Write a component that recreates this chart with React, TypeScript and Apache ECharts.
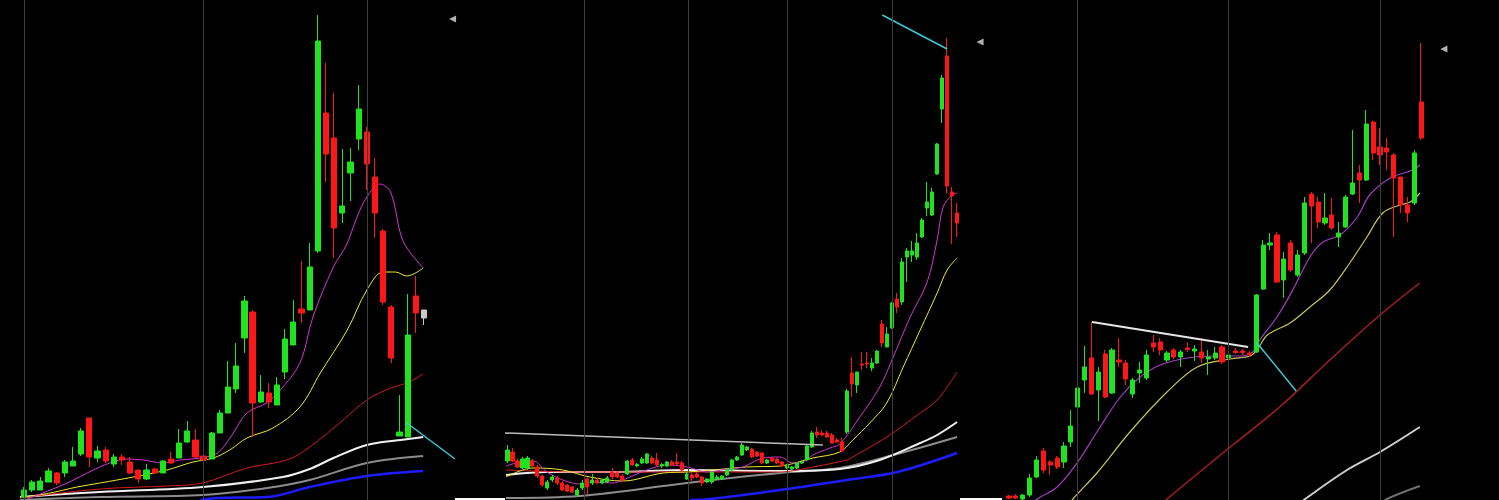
import React, { useEffect, useRef } from "react";
import * as echarts from "echarts";

type C = [number, number, number, number]; // open, close, low, high
type P = [number, number]; // slot index, value

const UP = "#1fe31f";
const DOWN = "#ff1616";
const GRAY_CANDLE = "#c8c8c8";

// ---------------- Panel 1 ----------------
const p1Candles: C[] = [
  [3, 10, 2, 13], [10, 18, 8, 20], [10, 19, 10, 23], [18, 29, 18, 32], [27, 17, 15, 28],
  [27, 38, 23, 40], [34, 39, 34, 53], [46, 69, 44, 72], [82, 43, 33, 82], [42, 49, 38, 54],
  [50, 39, 37, 53], [36, 43, 33, 46], [43, 40, 35, 46], [38, 27, 26, 43], [30, 21, 17, 30],
  [21, 30, 20, 36], [31, 27, 26, 32], [27, 39, 27, 40], [41, 37, 36, 48], [42, 57, 42, 71],
  [58, 69, 57, 79], [60, 43, 42, 71], [44, 40, 38, 51], [41, 67, 41, 68], [67, 87, 67, 90],
  [87, 113, 87, 139], [111, 134, 107, 157], [162, 199, 147, 204], [188, 97, 63, 190], [98, 108, 97, 125],
  [107, 98, 92, 117], [95, 115, 95, 123], [128, 161, 121, 171], [155, 178, 155, 200], [191, 187, 177, 239],
  [190, 233, 190, 257], [249, 459, 247, 485], [387, 346, 318, 437], [362, 272, 242, 407], [287, 294, 277, 351],
  [327, 338, 299, 352], [361, 391, 350, 415], [368, 336, 310, 373], [323, 287, 262, 342], [269, 198, 195, 271],
  [193, 142, 137, 195], [64, 68, 64, 105], [63, 165, 63, 206], [204, 187, 167, 224], [182, 190, 175, 190],
];
const p1GrayIndex = 49;
const p1Magenta: P[] = [[0.4, 1], [2.3, 7], [5.3, 17], [8.5, 30], [10.5, 37], [12.6, 41], [14.6, 40], [17, 37], [19.1, 40], [21.6, 42], [23.7, 47], [25.4, 64], [27.3, 87], [29.7, 97], [31.4, 110], [33.8, 137], [35.4, 183], [37.9, 233], [39.5, 255], [40.8, 283], [42, 303], [43.6, 316], [44.9, 308], [46.1, 267], [46.9, 252], [48.9, 232]];
const p1Yellow: P[] = [[-0.1, 3], [3.2, 7], [6.5, 13], [9.3, 17], [13.4, 23], [17.5, 30], [20.7, 38], [23.2, 42], [25.2, 50], [27.3, 62], [30.5, 72], [33.8, 93], [36.3, 127], [39.6, 170], [42, 210], [44, 228], [45.5, 228], [46.9, 224], [48.9, 232]];
const p1DarkRed: P[] = [[-0.5, 2], [9.3, 11], [17.5, 14], [21.9, 17], [27.3, 32], [32.2, 40], [35, 53], [39.1, 80], [42, 100], [44.9, 112], [46.9, 117], [48.9, 126]];
const p1White: P[] = [[-0.5, 3], [9.3, 8], [21.9, 13], [31.7, 23], [35, 31], [37.9, 42], [42, 55], [46.1, 60], [48.9, 63]];
const p1Gray: P[] = [[-0.5, 0], [9.3, 3], [21.9, 5], [29.8, 12], [35, 20], [42, 37], [48.9, 44]];
const p1Blue: P[] = [[21.6, 0], [23.7, 2], [29.8, 3], [35, 13], [42, 24], [48.9, 29]];
const p1Cyan: P[] = [[46.9, 77], [52.8, 41]];
const p1GridLines = [0, 22, 42];
const p1Marker: P = [52.5, 481];

// ---------------- Panel 2 ----------------
const p2Candles: C[] = [
  [39, 50, 37, 55], [48, 39, 38, 52], [39, 33, 32, 41], [32, 41, 31, 43], [32, 42, 30, 44],
  [39, 34, 33, 41], [33, 24, 22, 35], [24, 15, 13, 25], [12, 18, 10, 20], [20, 23, 18, 25],
  [22, 17, 15, 24], [17, 10, 9, 19], [15, 9, 8, 16], [13, 8, 7, 14], [5, 10, 3, 12],
  [12, 17, 10, 20], [21, 13, 5, 23], [17, 20, 15, 26], [20, 17, 16, 22], [17, 20, 16, 21],
  [18, 22, 17, 24], [28, 23, 21, 32], [27, 23, 22, 29], [24, 20, 18, 26], [26, 39, 25, 40],
  [40, 35, 34, 42], [34, 35.5, 33, 37], [37, 41, 36, 43], [37, 46, 36, 47], [42, 37, 36, 44],
  [40, 35, 34, 47], [34, 35.5, 32, 37], [34, 38, 33, 39], [38, 35, 34, 40], [38, 36, 34, 47],
  [37, 30, 29, 39], [21, 26, 20, 28], [25, 22, 19, 27], [26, 23, 22, 28], [23, 17, 14, 24],
  [18, 21, 17, 22], [18, 28, 16, 29], [21, 23, 20, 25], [21, 24, 20, 25], [25, 30, 24, 32],
  [30, 40, 29, 41], [40, 43, 39, 44], [45, 55, 44, 57], [50, 53, 49, 54], [51, 43, 42, 52],
  [48, 44, 43, 49], [47, 37, 36, 48], [37, 40, 36, 41], [42, 39, 38, 43], [41, 37, 36, 42],
  [38, 34, 33, 39], [32, 35, 31, 36], [31, 33, 30, 34], [32, 37, 31, 38], [37, 38, 36, 40],
  [40, 54, 39, 55], [53, 67, 52, 69], [68, 65, 62, 73], [67, 65, 64, 70], [67, 63, 62, 69],
  [65, 57, 56, 67], [60, 58, 57, 62], [58, 49, 48, 62], [68, 109, 66, 111], [127, 116, 103, 143],
  [115, 128, 107, 128], [136, 135, 130, 148], [137, 136, 132, 148], [132, 137, 129, 142], [137, 149, 136, 150],
  [176, 157, 153, 180], [153, 166, 153, 173], [172, 197, 171, 198], [201, 193, 187, 207], [198, 238, 195, 242],
  [243, 249, 218, 252], [245, 249, 238, 259], [243, 257, 240, 267], [263, 280, 262, 282], [292, 298, 284, 318],
  [285, 308, 284, 312], [326, 356, 325, 357], [391, 422, 377, 425], [444, 314, 307, 462], [308, 304, 256, 313],
  [287, 277, 263, 297],
];
const p2Magenta: P[] = [[-0.3, 34], [2.5, 38], [5.1, 39], [7.9, 28], [11.1, 20], [14.5, 16], [17.1, 18], [21.1, 17], [23.1, 20], [27.9, 30], [32, 35], [36, 33], [40, 28], [44, 31], [47.2, 33], [51.2, 42], [54.6, 43], [57.2, 37], [59.2, 38], [61.2, 45], [64.6, 52], [66.6, 56], [70.6, 83], [74.6, 113], [77.3, 143], [80.7, 183], [84.1, 218], [86.1, 260], [87.3, 293], [89.1, 305], [90.1, 307]];
const p2Yellow: P[] = [[-0.3, 23], [5.1, 32], [11.1, 30], [16.5, 23], [23.1, 19], [31.2, 27], [36, 28], [41.2, 30], [47.9, 33], [54.6, 34], [61.2, 42], [66.6, 48], [69.2, 60], [72.6, 77], [76, 97], [79.3, 133], [82.7, 170], [86.1, 207], [88.1, 230], [90.1, 242]];
const p2DarkRed: P[] = [[-0.3, 30], [14.5, 28], [36, 28], [54.6, 28], [61.2, 33], [68, 40], [69.2, 43], [76, 63], [82.7, 87], [86.1, 100], [90.1, 128]];
const p2White: P[] = [[-0.3, 25], [7.9, 28], [21.1, 28], [36, 30], [54.6, 29], [66.6, 31], [74.6, 40], [82.7, 57], [86.1, 65], [90.1, 78]];
const p2Gray: P[] = [[-0.3, 2], [14.5, 4], [36, 17], [54.6, 27], [66.6, 32], [78.1, 46], [90.1, 63]];
const p2Blue: P[] = [[36.6, 0], [40.6, 1], [54.6, 10], [68, 20], [78.1, 28], [90.1, 47]];
const p2TrendWhite: P[] = [[-0.5, 67], [63.2, 55]];
const p2Cyan: P[] = [[75.1, 485], [88.1, 451]];
const p2GridLines = [15.3, 36.2, 56, 77.2];
const p2Marker: P = [94.7, 458];

// ---------------- Panel 3 ----------------
const p3Candles: C[] = [
  [4, 2, 1, 5], [4, 2, 1, 6], [1, 5, 0, 6], [5, 22, 3, 26], [23, 40, 22, 44],
  [49, 30, 27, 52], [38, 35, 25, 40], [42, 33, 31, 44], [38, 54, 32, 58], [58, 74, 53, 90],
  [93, 112, 88, 128], [120, 133, 107, 154], [142, 106, 105, 178], [110, 128, 79, 133], [146, 103, 102, 150],
  [107, 150, 106, 152], [140, 138, 133, 162], [137, 121, 115, 140], [106, 120, 102, 122], [127, 130, 117, 138],
  [122, 145, 120, 150], [157, 153, 148, 165], [158, 150, 145, 162], [140, 147, 138, 149], [150, 143, 141, 152],
  [143, 148, 133, 150], [152, 150.5, 148, 158], [149, 151, 139, 155], [148, 142, 137, 162], [141, 143, 125, 150],
  [142, 147, 140, 153], [153, 138, 136, 155], [142, 145, 137, 147], [149, 147.5, 146, 152], [149, 147.5, 145, 151],
  [147, 145.5, 143, 149], [148, 205, 147, 206], [211, 255, 210, 260], [255, 257, 250, 267], [265, 218, 217, 268],
  [220, 241, 202, 248], [257, 230, 228, 260], [225, 245, 223, 250], [247, 297, 245, 303], [306, 294, 257, 308],
  [298, 278, 272, 303], [277, 282, 275, 307], [285, 272, 270, 302], [263, 267, 253, 278], [273, 303, 272, 305],
  [306, 317, 305, 370], [327, 320, 297, 335], [320, 376, 319, 390], [378, 347, 340, 379], [353, 345, 335, 372],
  [352, 348, 330, 362], [345, 322, 263, 347], [323, 295, 287, 323], [295, 287, 278, 303], [297, 347, 295, 350],
  [398, 362, 360, 457],
];
const p3Magenta: P[] = [[3.1, -5], [4.1, 1], [7, 13], [9.9, 37], [12.8, 68], [16.2, 103], [19.1, 123], [22, 135], [25.9, 142], [29.7, 144], [33.6, 144], [35.5, 148], [36.5, 160], [39, 183], [41.3, 210], [43.8, 243], [45.7, 258], [48.2, 265], [50.7, 283], [52.5, 305], [55.5, 322], [58.8, 330], [59.8, 335]];
const p3Yellow: P[] = [[9, -3], [9.3, 1], [12.8, 27], [17.6, 68], [23, 108], [27.4, 133], [32.2, 141], [35.1, 144], [36.1, 150], [37.6, 165], [40.9, 177], [43.8, 193], [46.7, 210], [49.6, 237], [52.1, 263], [54.4, 287], [56.9, 295], [58.4, 298], [59.8, 307]];
const p3DarkRed: P[] = [[22.5, -3], [23, 1], [32.2, 53], [39.4, 93], [46.7, 140], [54, 185], [59.8, 217]];
const p3White: P[] = [[42.5, -3], [43.1, 1], [49.2, 30], [54, 48], [59.8, 73]];
const p3Gray: P[] = [[54.5, -3], [55, 1], [59.8, 14]];
const p3TrendWhite: P[] = [[12.1, 178], [34.8, 153]];
const p3Cyan: P[] = [[36.1, 157], [41.8, 109]];
const p3GridLines = [9.9, 31.9, 54];
const p3Marker: P = [63.3, 451];

interface LineDef { data: P[]; color: string; width: number; smooth?: boolean }
interface PanelDef {
  x0: number; step: number; slots: number; barWidth: string;
  candles: C[]; grayIndex?: number;
  mas: LineDef[]; trends: LineDef[]; gridLines: number[]; marker: P;
}

const panels: PanelDef[] = [
  {
    x0: 24, step: 8.163, slots: 55, barWidth: "70%", candles: p1Candles, grayIndex: p1GrayIndex,
    mas: [
      { data: p1Blue, color: "#1c1cff", width: 2.5 },
      { data: p1Gray, color: "#8c8c8c", width: 2 },
      { data: p1White, color: "#f0f0f0", width: 2 },
      { data: p1DarkRed, color: "#d01c1c", width: 1 },
      { data: p1Yellow, color: "#f0e830", width: 1 },
      { data: p1Magenta, color: "#d533d5", width: 1 },
    ],
    trends: [{ data: p1Cyan, color: "#3ec8d6", width: 1.5 }],
    gridLines: p1GridLines, marker: p1Marker,
  },
  {
    x0: 507.5, step: 4.99, slots: 97, barWidth: "72%", candles: p2Candles,
    mas: [
      { data: p2Blue, color: "#1c1cff", width: 2.5 },
      { data: p2Gray, color: "#8c8c8c", width: 2 },
      { data: p2White, color: "#f0f0f0", width: 2 },
      { data: p2DarkRed, color: "#d01c1c", width: 1 },
      { data: p2Yellow, color: "#f0e830", width: 1 },
      { data: p2Magenta, color: "#cf35cf", width: 1 },
    ],
    trends: [
      { data: p2TrendWhite, color: "#bdbdbd", width: 1.5 },
      { data: p2Cyan, color: "#3ec8d6", width: 1.5 },
    ],
    gridLines: p2GridLines, marker: p2Marker,
  },
  {
    x0: 1009, step: 6.87, slots: 66, barWidth: "68%", candles: p3Candles,
    mas: [
      { data: p3Gray, color: "#6e6e6e", width: 2 },
      { data: p3White, color: "#cfcfcf", width: 2 },
      { data: p3DarkRed, color: "#a81d1d", width: 1.5 },
      { data: p3Yellow, color: "#c9c45c", width: 1.2 },
      { data: p3Magenta, color: "#a43cc4", width: 1.2 },
    ],
    trends: [
      { data: p3TrendWhite, color: "#e6e6e6", width: 2 },
      { data: p3Cyan, color: "#3ec8d6", width: 1.5 },
    ],
    gridLines: p3GridLines, marker: p3Marker,
  },
];

function buildOption(): echarts.EChartsCoreOption {
  const grid: any[] = [];
  const xAxis: any[] = [];
  const yAxis: any[] = [];
  const series: any[] = [];

  panels.forEach((p, k) => {
    grid.push({ left: p.x0 - p.step / 2, top: 0, width: p.step * p.slots, height: 500 });
    xAxis.push({
      type: "category", gridIndex: k, show: false, boundaryGap: true,
      data: Array.from({ length: p.slots }, (_, i) => String(i)),
    });
    xAxis.push({ type: "value", gridIndex: k, show: false, min: -0.5, max: p.slots - 0.5 });
    yAxis.push({ type: "value", gridIndex: k, show: false, min: 0, max: 500, splitLine: { show: false } });

    const catIdx = 2 * k;
    const valIdx = 2 * k + 1;

    // vertical grid lines
    series.push({
      type: "line", xAxisIndex: valIdx, yAxisIndex: k, data: [], z: 1, silent: true,
      markLine: {
        silent: true, symbol: "none", label: { show: false },
        lineStyle: { color: "#3d3d3d", width: 1, type: "solid" },
        data: p.gridLines.map((x) => ({ xAxis: x })),
      },
    });

    p.mas.forEach((m) => {
      series.push({
        type: "line", xAxisIndex: valIdx, yAxisIndex: k, data: m.data, smooth: 0.35,
        showSymbol: false, silent: true, z: 2, clip: true,
        lineStyle: { color: m.color, width: m.width },
      });
    });

    series.push({
      type: "candlestick", xAxisIndex: catIdx, yAxisIndex: k, z: 3, barWidth: p.barWidth, clip: true,
      itemStyle: { color: UP, color0: DOWN, borderColor: UP, borderColor0: DOWN, borderWidth: 1 },
      data: p.candles.map((c, i) =>
        i === p.grayIndex
          ? { value: c, itemStyle: { color: GRAY_CANDLE, color0: GRAY_CANDLE, borderColor: GRAY_CANDLE, borderColor0: GRAY_CANDLE } }
          : c
      ),
    });

    p.trends.forEach((t) => {
      series.push({
        type: "line", xAxisIndex: valIdx, yAxisIndex: k, data: t.data, smooth: false,
        showSymbol: false, silent: true, z: 4, lineStyle: { color: t.color, width: t.width },
      });
    });

    series.push({
      type: "scatter", xAxisIndex: valIdx, yAxisIndex: k, data: [p.marker], z: 5, silent: true,
      symbol: "triangle", symbolSize: [7, 7], symbolRotate: 90,
      itemStyle: { color: "#dedede" },
    });
  });

  return {
    animation: false,
    backgroundColor: "#000000",
    grid, xAxis, yAxis, series,
    graphic: [
      { type: "rect", shape: { x: 455, y: 498, width: 50, height: 2 }, style: { fill: "#ffffff" } },
      { type: "rect", shape: { x: 960, y: 498, width: 42, height: 2 }, style: { fill: "#ffffff" } },
    ],
  };
}

export default function App() {
  const ref = useRef<HTMLDivElement>(null);
  useEffect(() => {
    document.body.style.margin = "0";
    document.body.style.background = "#000";
    const chart = echarts.init(ref.current as HTMLDivElement, undefined, { renderer: "svg" });
    chart.setOption(buildOption());
    return () => chart.dispose();
  }, []);
  return <div ref={ref} style={{ width: 1499, height: 500, background: "#000" }} />;
}
